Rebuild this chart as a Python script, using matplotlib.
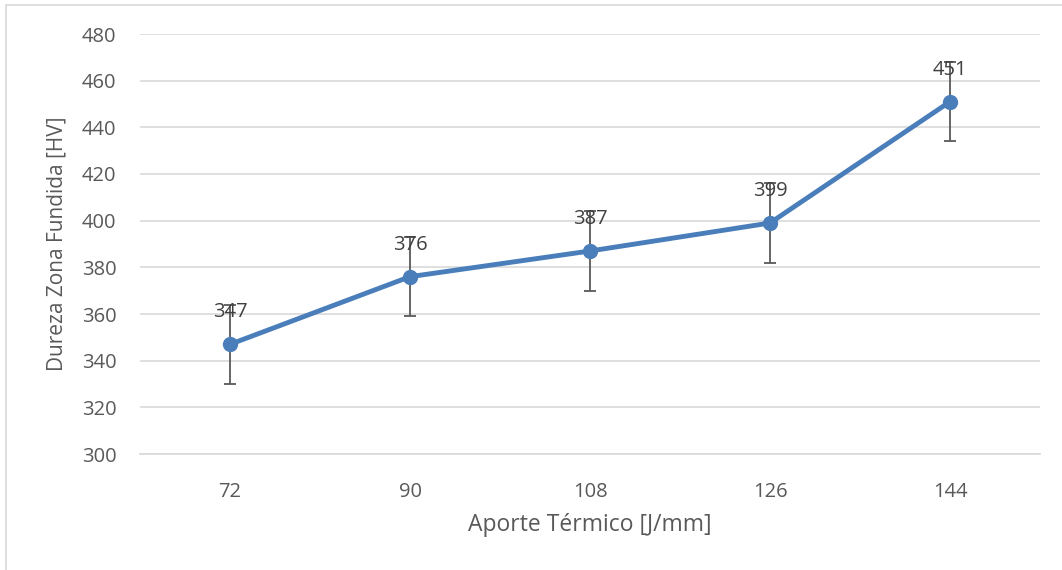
import matplotlib
matplotlib.use("Agg")
import matplotlib.pyplot as plt
from matplotlib.patches import Rectangle

categories = ["72", "90", "108", "126", "144"]
values = [347, 376, 387, 399, 451]
errors = [17, 17, 17, 17, 17]
yticks = [300, 320, 340, 360, 380, 400, 420, 440, 460, 480]

plt.rcParams['font.family'] = ['Open Sans', 'DejaVu Sans']

fig = plt.figure(figsize=(10.62, 5.70), dpi=100)
fig.patches.append(Rectangle((6/1062, -0.05), 1.1, 1.05 - 5/570, transform=fig.transFigure,
                             fill=False, edgecolor='#D9D9D9', linewidth=1.2))
ax = fig.add_axes([140/1062, 1 - 454/570, 900/1062, 420/570])

x = list(range(len(categories)))
ax.errorbar(x, values, yerr=errors, fmt='none', ecolor='#595959', elinewidth=1.3,
            capsize=4.5, capthick=1.3, zorder=2)
ax.plot(x, values, color='#4A7EBB', linewidth=3.5, marker='o', markersize=10,
        markerfacecolor='#4A7EBB', markeredgecolor='#4A7EBB', zorder=3, solid_capstyle='round')
for xi, v in zip(x, values):
    ax.annotate(str(v), (xi, v), xytext=(0, 23), textcoords='offset points',
                ha='center', va='center', fontsize=14.5, color='#404040', zorder=4)

ax.set_xlim(-0.5, len(categories) - 0.5)
ax.set_ylim(300, 480)
ax.set_yticks(yticks)
ax.set_xticks(x)
ax.set_xticklabels(categories)
ax.grid(axis='y', color='#D9D9D9', linewidth=1.2)
ax.set_axisbelow(True)
for s in ['top', 'right', 'left']:
    ax.spines[s].set_visible(False)
ax.spines['bottom'].set_color('#D9D9D9')
ax.spines['bottom'].set_linewidth(1.2)
ax.tick_params(axis='both', length=0, labelsize=14.5, labelcolor='#595959')
ax.tick_params(axis='x', pad=20)
ax.tick_params(axis='y', pad=17)
ax.set_xlabel('Aporte Térmico [J/mm]', fontsize=16.5, color='#595959', labelpad=8)
ax.set_ylabel('Dureza Zona Fundida [HV]', fontsize=15, color='#595959', labelpad=10)

fig.savefig('out.png', dpi=100)
